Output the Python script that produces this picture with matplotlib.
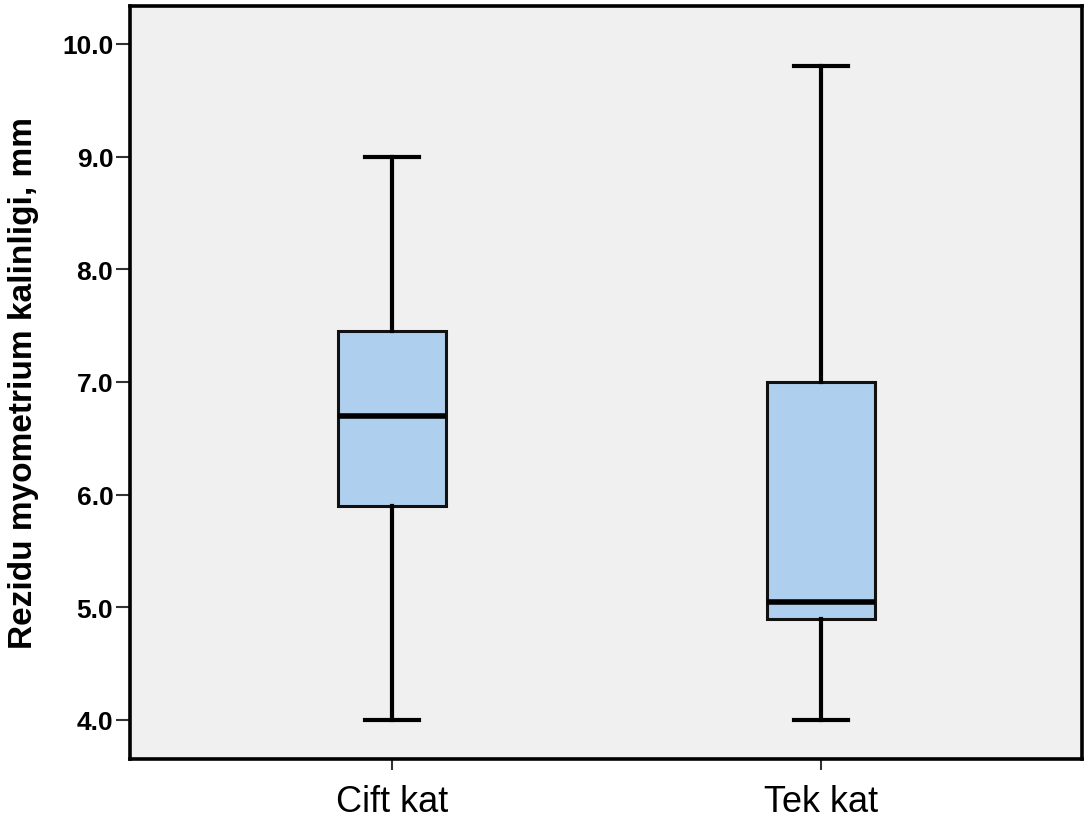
import matplotlib
matplotlib.use('Agg')
import matplotlib.pyplot as plt

# Box statistics
groups = ['Cift kat', 'Tek kat']
whis_low = [4.0, 4.0]
q1 = [5.9, 4.9]
median = [6.7, 5.05]
q3 = [7.45, 7.0]
whis_high = [9.0, 9.8]
yticks = [4.0, 5.0, 6.0, 7.0, 8.0, 9.0, 10.0]

plt.rcParams['font.family'] = ['Liberation Sans', 'DejaVu Sans']

stats = []
for i in range(len(groups)):
    stats.append({'label': groups[i], 'whislo': whis_low[i], 'q1': q1[i],
                  'med': median[i], 'q3': q3[i], 'whishi': whis_high[i],
                  'fliers': []})

fig = plt.figure(figsize=(10.86, 8.2), dpi=100)
ax = fig.add_axes([0.1197, 0.0732, 0.8766, 0.9183])
ax.set_facecolor('#f0f0f0')

ax.bxp(stats, positions=[0, 1], widths=0.252, patch_artist=True,
       showfliers=False,
       boxprops=dict(facecolor='#aecfee', edgecolor='#111111', linewidth=2.2),
       medianprops=dict(color='black', linewidth=4.0, solid_capstyle='butt'),
       whiskerprops=dict(color='black', linewidth=3.0),
       capprops=dict(color='black', linewidth=3.0),
       capwidths=0.126)

ax.set_xlim(-0.611, 1.608)
ax.set_ylim(3.654, 10.337)
ax.set_yticks(yticks)
ax.set_yticklabels(['%.1f' % v for v in yticks], fontsize=19, fontweight='bold')
ax.set_xticks([0, 1])
ax.set_xticklabels(groups, fontsize=26)
ax.tick_params(axis='y', length=10, width=1.5, color='#333333', pad=2)
ax.tick_params(axis='x', length=8, width=1.5, color='#333333', pad=10)

for s in ax.spines.values():
    s.set_linewidth(2.6)
    s.set_color('black')

ax.set_ylabel('Rezidu myometrium kalinligi, mm', fontsize=24,
              fontweight='bold')
ax.yaxis.set_label_coords(-0.096, 0.5)

fig.savefig('out.png', dpi=100, facecolor='white')
